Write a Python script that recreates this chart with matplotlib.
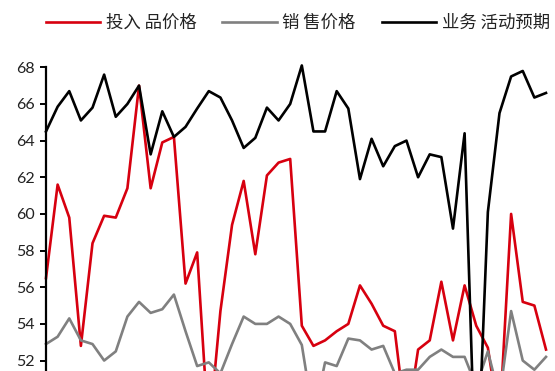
import matplotlib
matplotlib.use("Agg")
import matplotlib.pyplot as plt

# Series values (monthly)
input_price = [56.5, 61.6, 59.8, 52.8, 58.4, 59.9, 59.8, 61.4, 67.0, 61.4,
               63.9, 64.2, 56.2, 57.9, 47.9, 54.7, 59.4, 61.8, 57.8, 62.1,
               62.8, 63.0, 53.9, 52.8, 53.1, 53.6, 54.0, 56.1, 55.1, 53.9,
               53.6, 48.4, 52.6, 53.1, 56.3, 53.1, 56.1, 53.9, 52.7, 48.6,
               60.0, 55.2, 55.0, 52.6]
sale_price = [52.9, 53.3, 54.3, 53.1, 52.9, 52.0, 52.5, 54.4, 55.2, 54.6,
              54.8, 55.6, 53.6, 51.7, 51.9, 51.3, 52.9, 54.4, 54.0, 54.0,
              54.4, 54.0, 52.85, 48.9, 51.9, 51.7, 53.2, 53.1, 52.6, 52.8,
              51.3, 51.5, 51.5, 52.2, 52.6, 52.2, 52.2, 50.6, 52.5, 50.0,
              54.7, 52.0, 51.5, 52.2]
expect = [64.5, 65.85, 66.7, 65.1, 65.8, 67.6, 65.3, 66.0, 67.0, 63.25,
          65.6, 64.2, 64.75, 65.75, 66.7, 66.35, 65.1, 63.6, 64.15, 65.8,
          65.1, 66.0, 68.1, 64.5, 64.5, 66.7, 65.75, 61.9, 64.1, 62.6,
          63.7, 64.0, 62.0, 63.25, 63.1, 59.2, 64.4, 44.3, 60.1, 65.5,
          67.5, 67.8, 66.35, 66.6]
labels = ['投入 品价格', '销 售价格', '业务 活动预期']
yticks = [52, 54, 56, 58, 60, 62, 64, 66, 68]

fig = plt.figure(figsize=(5.55, 3.71), dpi=100)
ax = fig.add_axes([46 / 555, 0, 500 / 555, 1 - 67.3 / 371])

x = list(range(len(expect)))
ax.plot(x, input_price, color='#d7000f', lw=1.9, label=labels[0], clip_on=False)
ax.plot(x, sale_price, color='#808080', lw=1.9, label=labels[1], clip_on=False)
ax.plot(x, expect, color='black', lw=1.9, label=labels[2], clip_on=False)

ax.set_xlim(0, len(expect) - 1)
ax.set_ylim(51.43, 68)
ax.set_yticks(yticks)
ax.set_xticks([])
for s in ['top', 'right', 'bottom']:
    ax.spines[s].set_visible(False)
ax.spines['left'].set_linewidth(1.6)
ax.tick_params(axis='y', direction='out', length=4, width=1.4, pad=4,
               labelsize=11.5, labelcolor='#222222')
for t in ax.get_yticklabels():
    t.set_fontfamily('Lato')

fig.legend(loc='upper left', bbox_to_anchor=(37 / 555, 1 - 5 / 371), ncol=3, frameon=False,
           prop={'family': ['Noto Sans CJK SC', 'DejaVu Sans'], 'size': 12.5},
           handlelength=3.15, handletextpad=0.3, columnspacing=1.5,
           borderaxespad=0.1, labelcolor='#222222')

fig.savefig('out.png', dpi=100)
